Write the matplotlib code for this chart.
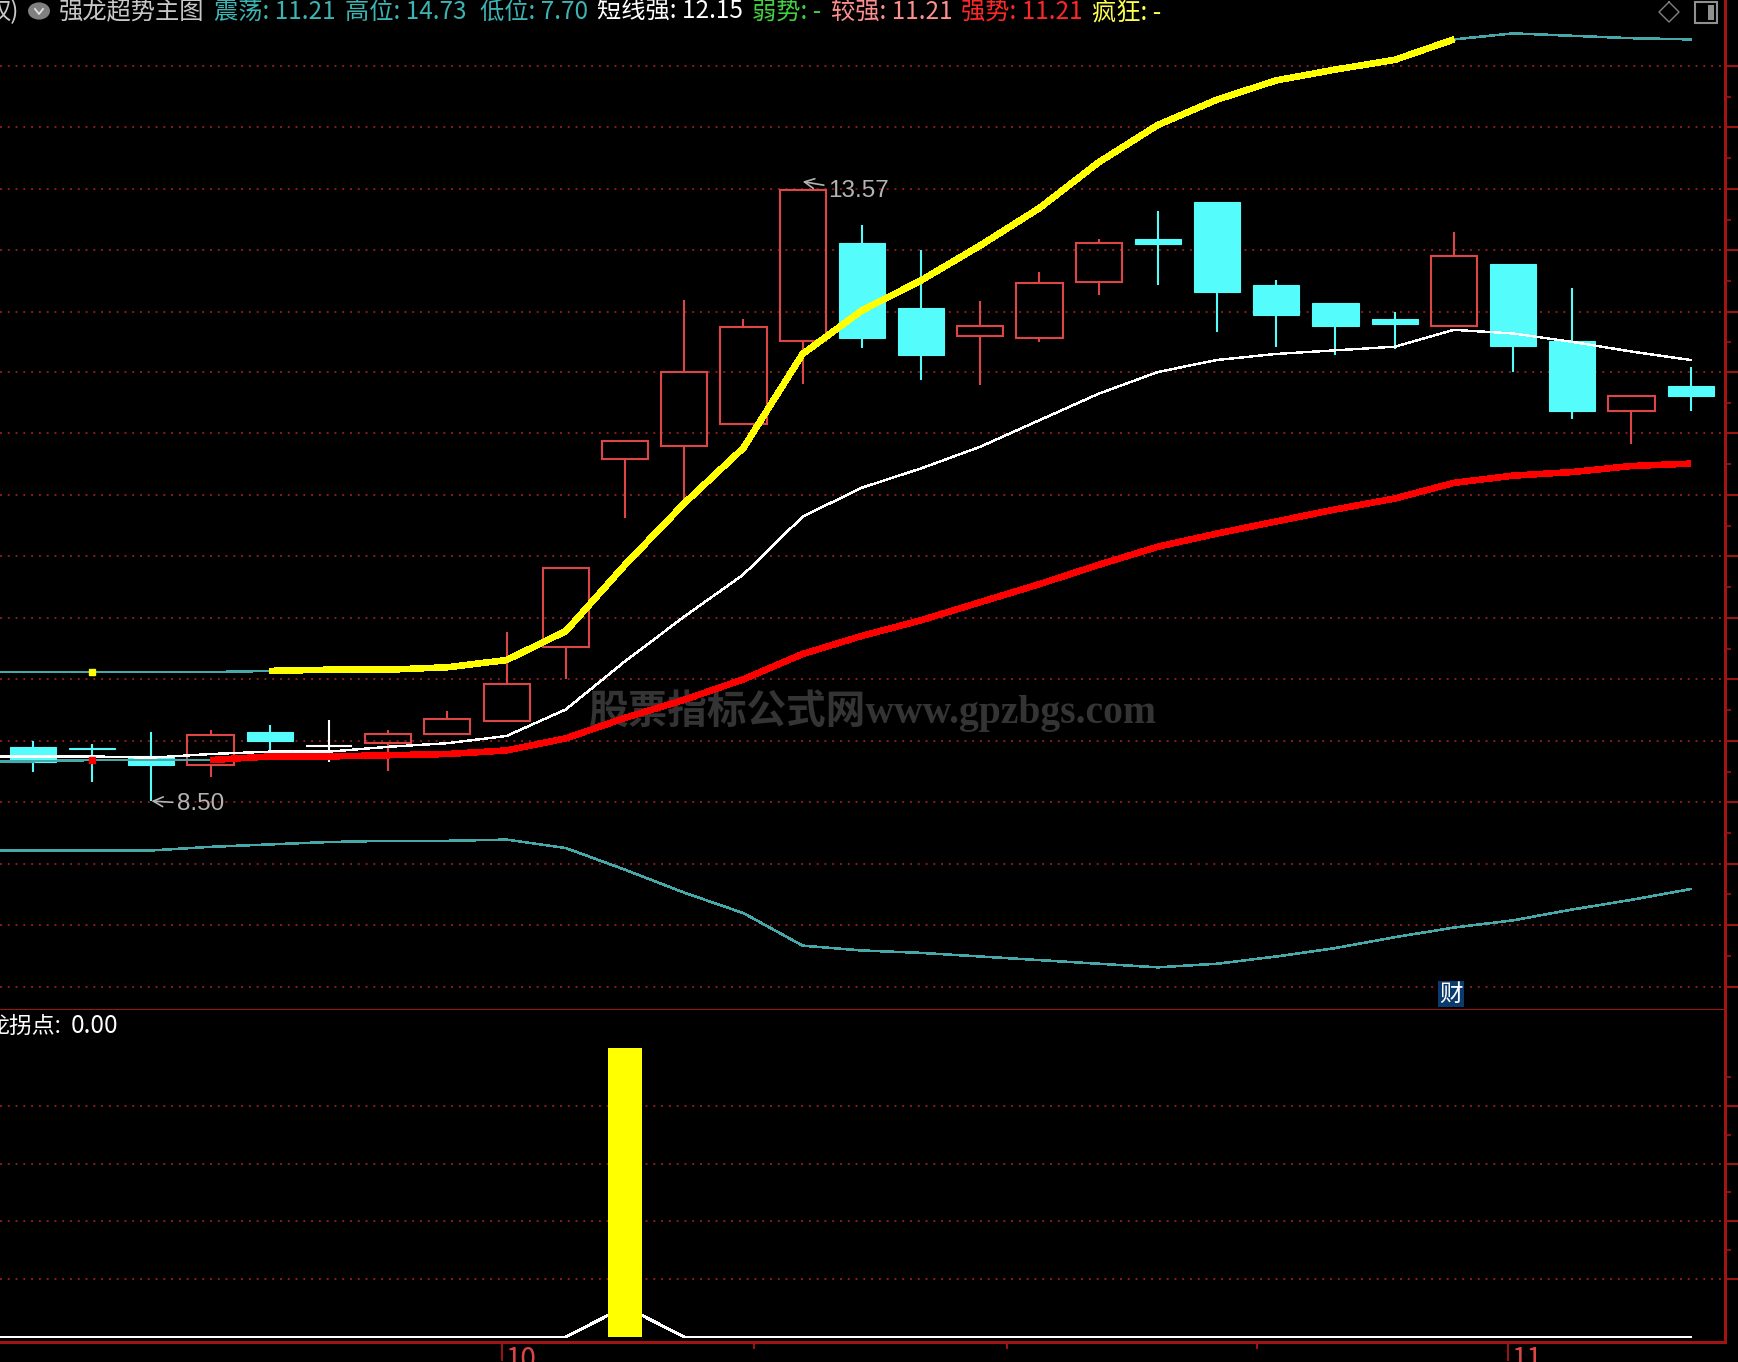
import matplotlib
matplotlib.use('Agg')
import matplotlib.pyplot as plt
from matplotlib.patches import Rectangle, Circle

plt.rcParams['font.family'] = ['Noto Sans CJK SC', 'DejaVu Sans']

# K线数据
abiertos = [8.95, 8.94, 8.87, 8.80, 9.07, 8.96, 8.98, 9.06, 9.16, 9.78, 11.34, 11.45, 11.63, 12.32, 13.13,
            12.59, 12.36, 12.34, 12.81, 13.16, 13.47, 12.78, 12.63, 12.50, 12.44, 12.96, 12.32, 11.74, 11.94]
cierres = [8.82, 8.93, 8.80, 9.05, 9.00, 8.96, 9.06, 9.18, 9.47, 10.43, 11.49, 12.06, 12.43, 13.57, 12.34,
           12.20, 12.44, 12.80, 13.13, 13.12, 12.72, 12.53, 12.44, 12.46, 13.02, 12.28, 11.74, 11.86, 11.86]
maximos = [9.00, 8.97, 9.07, 9.09, 9.13, 9.17, 9.09, 9.25, 9.90, 10.43, 11.49, 12.66, 12.50, 13.57, 13.28,
           13.07, 12.65, 12.89, 13.16, 13.40, 13.47, 12.82, 12.63, 12.56, 13.22, 12.96, 12.76, 11.86, 12.10]
minimos = [8.74, 8.66, 8.50, 8.70, 8.87, 8.82, 8.75, 9.06, 9.16, 9.51, 10.85, 10.99, 11.63, 11.96, 12.26,
           11.99, 11.95, 12.31, 12.70, 12.78, 12.39, 12.27, 12.20, 12.25, 12.44, 12.06, 11.67, 11.46, 11.74]

# Lineas, empiezan una barra antes de la primera vela
alto = [9.57, 9.57, 9.57, 9.57, 9.57, 9.58, 9.59, 9.59, 9.61, 9.67, 9.91, 10.46, 10.97, 11.43, 12.21, 12.57,
        12.82, 13.11, 13.42, 13.80, 14.11, 14.32, 14.48, 14.57, 14.65, 14.82, 14.87, 14.85, 14.83, 14.82]
corto = [8.87, 8.87, 8.87, 8.86, 8.89, 8.91, 8.91, 8.95, 8.98, 9.04, 9.26, 9.66, 10.03, 10.38, 10.86, 11.10,
         11.26, 11.44, 11.66, 11.88, 12.06, 12.16, 12.21, 12.24, 12.27, 12.41, 12.38, 12.31, 12.23, 12.16]
fuerte = [8.83, 8.83, 8.84, 8.84, 8.84, 8.87, 8.87, 8.88, 8.89, 8.92, 9.02, 9.19, 9.34, 9.51, 9.72, 9.87,
          10.00, 10.15, 10.30, 10.46, 10.61, 10.72, 10.82, 10.92, 11.01, 11.14, 11.20, 11.23, 11.28, 11.30]
bajo = [8.09, 8.09, 8.09, 8.09, 8.12, 8.14, 8.16, 8.17, 8.17, 8.18, 8.11, 7.93, 7.74, 7.57, 7.30, 7.26,
        7.24, 7.21, 7.18, 7.15, 7.12, 7.15, 7.21, 7.28, 7.37, 7.45, 7.51, 7.60, 7.68, 7.77]

# Panel inferior
barra_amarilla = [10]
barra_valor = [100]
linea_inferior = [0, 0, 0, 0, 0, 0, 0, 0, 0, 0, 0, 10.5, 0, 0, 0, 0, 0, 0, 0, 0, 0, 0, 0, 0, 0, 0, 0, 0, 0, 0]

# Ejes
rejilla_precio = [14.60, 14.09, 13.58, 13.07, 12.56, 12.06, 11.55, 11.04, 10.53, 10.02, 9.51, 9.00, 8.49, 7.98, 7.47, 6.96]
rejilla_inferior = [20, 40, 60, 80]
ticks_fecha = [7.92, 12.18, 16.45, 20.68, 24.92]

W, H = 1738, 1362
ROJO = '#A01414'
PUNTOS = '#8B1C1C'
CIAN = '#54FCFC'
CIAN_LINEA = '#46A8A8'
VELA = '#DC4646'
GRIS = '#B4B4B4'

fig = plt.figure(figsize=(W / 100, H / 100), dpi=100, facecolor='black')
ax = fig.add_axes([0, (H - 1010) / H, 1725 / W, 1010 / H], facecolor='black')
ax2 = fig.add_axes([0, (H - 1342) / H, 1725 / W, 332 / H], facecolor='black')


# pixeles de la imagen a coordenadas de la figura
def px(x, y):
    return x / W, 1 - y / H


for a in (ax, ax2):
    for lado in ('top', 'left'):
        a.spines[lado].set_visible(False)
    for lado in ('right', 'bottom'):
        a.spines[lado].set_color(ROJO)
        a.spines[lado].set_linewidth(2.2)
    a.yaxis.tick_right()
    a.tick_params(axis='y', which='major', color=ROJO, length=9, width=1.4, labelright=False)
    a.tick_params(axis='y', which='minor', color=ROJO, length=4, width=1.2)

ax.set_xticks([])
ax.set_yticks(rejilla_precio)
ax.set_yticks([v - 0.255 for v in rejilla_precio[:-1]], minor=True)
ax2.set_yticks(rejilla_inferior)
ax2.set_yticks([v + 10 for v in rejilla_inferior], minor=True)
for v in rejilla_precio:
    ax.axhline(v, color=PUNTOS, lw=1.4, ls=(0, (1, 3)), zorder=1)
for v in rejilla_inferior:
    ax2.axhline(v, color=PUNTOS, lw=1.4, ls=(0, (1, 3)), zorder=1)

ax2.set_xticks([ticks_fecha[0], ticks_fecha[4]])
ax2.set_xticks(ticks_fecha[1:4], minor=True)
ax2.set_xticklabels([])
ax2.tick_params(axis='x', which='major', color=ROJO, length=14, width=1.4)
ax2.tick_params(axis='x', which='minor', color=ROJO, length=5, width=1.4)

# Marca de agua
ax.text(*px(873, 711), '股票指标公式网www.gpzbgs.com', color='#343434', fontsize=28.5, fontweight='bold',
        family=['Liberation Serif', 'Noto Sans CJK SC'], ha='center', va='center', zorder=1.5,
        transform=fig.transFigure)

# Velas
ancho = 0.78
for i in range(len(abiertos)):
    o, c, h, l = abiertos[i], cierres[i], maximos[i], minimos[i]
    arriba, abajo = max(o, c), min(o, c)
    if o == c:
        ax.vlines(i, l, h, color='white', lw=1.5, zorder=2)
        ax.hlines(o, i - ancho / 2, i + ancho / 2, color='white', lw=1.5, zorder=2)
    elif c > o:
        ax.vlines(i, arriba, h, color=VELA, lw=1.5, zorder=2)
        ax.vlines(i, l, abajo, color=VELA, lw=1.5, zorder=2)
        ax.bar(i, arriba - abajo, ancho, bottom=abajo, facecolor='none', edgecolor=VELA, lw=1.5, zorder=2)
    else:
        ax.vlines(i, l, h, color=CIAN, lw=1.5, zorder=2)
        ax.bar(i, arriba - abajo, ancho, bottom=abajo, facecolor=CIAN, edgecolor=CIAN, lw=0.8, zorder=2)

# Lineas
xs = list(range(-1, 29))
ax.plot(xs, alto, color=CIAN_LINEA, lw=1.1, antialiased=False, zorder=3)
ax.plot(xs[:5], fuerte[:5], color=CIAN_LINEA, lw=1.1, antialiased=False, zorder=3)
ax.plot(xs, bajo, color=CIAN_LINEA, lw=1.1, antialiased=False, zorder=3)
ax.plot(xs, corto, color='white', lw=1.0, antialiased=False, zorder=4)
ax.plot(xs[5:26], alto[5:26], color='#FFFF00', lw=4.0, antialiased=False, solid_capstyle='butt', zorder=5)
ax.plot(xs[4:], fuerte[4:], color='#FF0000', lw=4.0, antialiased=False, solid_capstyle='butt', zorder=5)
ax.plot(1, alto[2], 's', color='#FFFF00', ms=4.5, zorder=5)
ax.plot(1, fuerte[2], 's', color='#FF0000', ms=4.5, zorder=5)

# Maximo y minimo
ax.annotate('13.57', xy=(13, 13.64), xytext=(828, 1362 - 191), textcoords='figure pixels', color=GRIS, fontsize=17.5,
            va='center', family='Liberation Sans',
            arrowprops=dict(arrowstyle='->', color=GRIS, lw=1.2, shrinkA=1, shrinkB=0), zorder=6)
ax.annotate('8.50', xy=(2, 8.50), xytext=(177, 1362 - 804), textcoords='figure pixels', color=GRIS, fontsize=17.5,
            va='center', family='Liberation Sans',
            arrowprops=dict(arrowstyle='->', color=GRIS, lw=1.2, shrinkA=1, shrinkB=0), zorder=6)

# Panel inferior
ax2.bar(barra_amarilla, barra_valor, 0.575, color='#FFFF00', zorder=4)
ax2.plot(xs, linea_inferior, color='white', lw=1.4, antialiased=False, zorder=3)

# Limites al final, set_yticks los puede ampliar
ax.set_ylim(6.766, 15.147)
ax2.set_ylim(-1.73, 113.1)
ax.set_xlim(-0.557, 28.58)
ax2.set_xlim(-0.557, 28.58)

# Cabecera
cabecera = [
    (-13, '权)', '#C8C8C8'),
    (59, '强龙超势主图', '#C8C8C8'),
    (214, '震荡: 11.21', '#3CB4B4'),
    (345, '高位: 14.73', '#3CB4B4'),
    (480, '低位: 7.70', '#3CB4B4'),
    (597, '短线强: 12.15', '#FFFFFF'),
    (752, '弱势: -', '#40D040'),
    (831, '较强: 11.21', '#FF9090'),
    (961, '强势: 11.21', '#FF2828'),
    (1092, '疯狂: -', '#FFFF50'),
]
for x, texto, color in cabecera:
    fig.text(*px(x, 12), texto, color=color, fontsize=17.5, ha='left', va='center')

fig.text(*px(-14, 1026), '龙拐点:', color='white', fontsize=16.5, ha='left', va='center')
fig.text(*px(71, 1026), '0.00', color='white', fontsize=17.5, ha='left', va='center')
fig.text(*px(505, 1360), '10', color=VELA, fontsize=20, ha='left', va='center')
fig.text(*px(1511, 1360), '11', color=VELA, fontsize=20, ha='left', va='center')

# Iconos
fig.add_artist(Circle(px(39, 11), 11 / W, facecolor='#808080', edgecolor='none', transform=fig.transFigure))
fig.add_artist(plt.Line2D([35 / W, 39 / W, 43 / W], [1 - 9 / H, 1 - 14 / H, 1 - 9 / H], color='#E0E0E0', lw=1.3))
fig.add_artist(plt.Line2D([1669 / W, 1679 / W, 1669 / W, 1659 / W, 1669 / W],
                          [1 - 2 / H, 1 - 12 / H, 1 - 22 / H, 1 - 12 / H, 1 - 2 / H], color='#808080', lw=1))
fig.add_artist(Rectangle(px(1695, 23), 22 / W, 21 / H, facecolor='none', edgecolor='#909090', lw=1.5,
                         transform=fig.transFigure))
fig.add_artist(Rectangle(px(1708, 20), 6 / W, 15 / H, facecolor='#909090', edgecolor='none', transform=fig.transFigure))

# Etiqueta azul
fig.add_artist(Rectangle(px(1438, 1007), 26 / W, 26 / H, facecolor='#0A3A6E', edgecolor='none', transform=fig.transFigure))
fig.text(*px(1451, 994), '财', color='white', fontsize=17, ha='center', va='center')

fig.savefig('out.png', dpi=100, facecolor='black')
